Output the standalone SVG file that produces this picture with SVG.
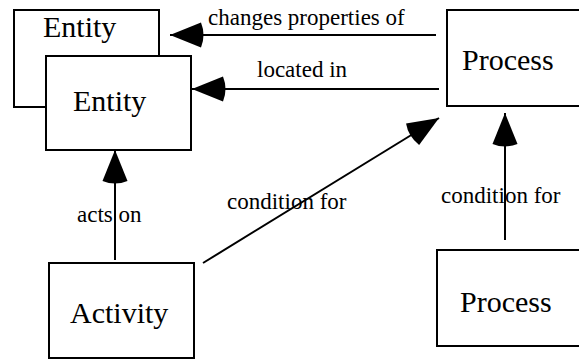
<svg xmlns="http://www.w3.org/2000/svg" width="579" height="360" viewBox="0 0 579 360">
<style>
.box{fill:#fff;stroke:#000;stroke-width:2}
.node{font-family:"Liberation Serif","Times New Roman",serif;font-size:30px;fill:#000}
.lbl{font-family:"Liberation Serif","Times New Roman",serif;font-size:23px;fill:#000}
.edge{stroke:#000;stroke-width:2;fill:none}
</style>
<defs>
<marker id="ah" markerUnits="userSpaceOnUse" orient="auto" markerWidth="40" markerHeight="30" viewBox="-40 -15 40 30" refX="0" refY="0" overflow="visible">
<path d="M0,0 L-31,-12.5 Q-36,0 -31,12.5 Z" fill="#000"/>
</marker>
</defs>
<g id="entity-back">
<rect class="box" x="14" y="10" width="145" height="97"/>
<text class="node" x="43" y="37">Entity</text>
</g>
<g id="entity-front">
<rect class="box" x="46" y="56" width="145" height="94"/>
<text class="node" x="73" y="111">Entity</text>
</g>
<g id="process-top">
<rect class="box" x="447" y="10" width="150" height="96"/>
<text class="node" x="462" y="70">Process</text>
</g>
<g id="activity">
<rect class="box" x="49" y="263" width="145" height="95"/>
<text class="node" x="70" y="323">Activity</text>
</g>
<g id="process-bottom">
<rect class="box" x="437" y="250" width="150" height="96"/>
<text class="node" x="460" y="312">Process</text>
</g>
<g id="connectors">
<line class="edge" x1="436" y1="35" x2="170" y2="35" marker-end="url(#ah)"/>
<line class="edge" x1="439" y1="89" x2="192" y2="89" marker-end="url(#ah)"/>
<line class="edge" x1="115" y1="260" x2="115" y2="150" marker-end="url(#ah)"/>
<line class="edge" x1="203" y1="263" x2="439" y2="118" marker-end="url(#ah)"/>
<line class="edge" x1="505" y1="240" x2="505" y2="113" marker-end="url(#ah)"/>
<text class="lbl" x="208" y="25">changes properties of</text>
<text class="lbl" x="257" y="77">located in</text>
<text class="lbl" x="77" y="222">acts on</text>
<text class="lbl" x="227" y="209">condition for</text>
<text class="lbl" x="441" y="203">condition for</text>
</g>
</svg>
